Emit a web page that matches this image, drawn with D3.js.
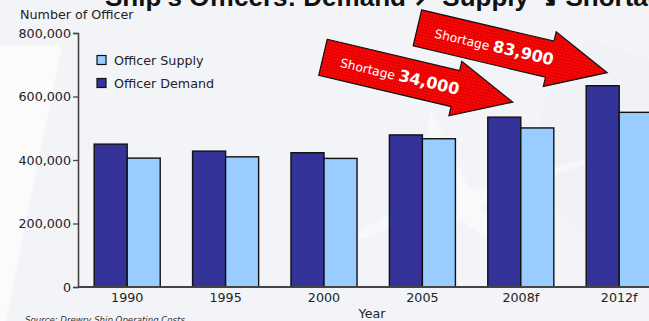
<!DOCTYPE html>
<html>
<head>
<meta charset="utf-8">
<script src="https://cdn.jsdelivr.net/npm/d3@7/dist/d3.min.js"></script>
<style>
  html, body { margin: 0; padding: 0; background: #f4f5f7; }
  svg { display: block; }
</style>
</head>
<body>
<svg id="chart" width="649" height="321"></svg>
<script>
// ---- data ----
const years = ["1990", "1995", "2000", "2005", "2008f", "2012f"];
const officerDemand = [450000, 428000, 423000, 479000, 535000, 634000];
const officerSupply = [406000, 410000, 405000, 467000, 501000, 550100];
const yTicks = [0, 200000, 400000, 600000, 800000];
const shortageYears = ["2008f", "2012f"];
const shortageValues = [34000, 83900];
const seriesNames = ["Officer Demand", "Officer Supply"];

const W = 649, H = 321;
const svg = d3.select("#chart");
const FONT = "'DejaVu Sans', Verdana, sans-serif";

// background
svg.append("rect").attr("width", W).attr("height", H).attr("fill", "#f3f4f7");
svg.append("path").attr("d", "M0,45 L62,45 L6,321 L0,321 Z").attr("fill", "#fbfbfc");
svg.append("path").attr("d", "M590,40 C520,90 520,200 600,250 L649,250 L649,60 Z").attr("fill", "#eef0f3").attr("opacity", 0.6);
svg.append("path").attr("d", "M430,110 L470,190 L620,150 L480,205 L560,290 L460,220 L420,300 L430,215 L330,250 L420,195 Z")
  .attr("fill", "#ffffff").attr("opacity", 0.45);

// title (partly cut off at the top, as in the reference)
svg.append("text")
  .attr("x", 105).attr("y", 5.5)
  .attr("font-family", "'Liberation Sans', Arial, sans-serif")
  .attr("font-weight", "bold").attr("font-size", 26).attr("fill", "#111")
  .text("Ship's Officers: Demand \u2197 Supply \u2198 Shortage");

// scales
const y = d3.scaleLinear().domain([0, 800000]).range([287, 33]);
const x0 = d3.scaleBand().domain(years).range([78, 668.4]).paddingInner(0).paddingOuter(0);
const x1 = d3.scaleBand().domain(seriesNames).range([0, x0.bandwidth()]).paddingInner(0).paddingOuter(0.49);
const color = d3.scaleOrdinal().domain(seriesNames).range(["#333399", "#99ccff"]);

// bars
const rows = years.map((yr, i) => ({ year: yr, values: [
  { key: "Officer Demand", v: officerDemand[i] },
  { key: "Officer Supply", v: officerSupply[i] }
]}));
const g = svg.append("g");
g.selectAll("g.grp").data(rows).join("g")
  .attr("transform", d => `translate(${x0(d.year)},0)`)
  .selectAll("rect").data(d => d.values).join("rect")
  .attr("x", d => x1(d.key))
  .attr("y", d => y(d.v))
  .attr("width", x1.bandwidth())
  .attr("height", d => y(0) - y(d.v))
  .attr("fill", d => color(d.key))
  .attr("stroke", "#111").attr("stroke-width", 1.4);

// x axis line
svg.append("line").attr("x1", 78).attr("x2", W).attr("y1", 287).attr("y2", 287)
  .attr("stroke", "#444").attr("stroke-width", 2);

// x labels
const xAxis = svg.append("g").attr("transform", "translate(0,287)")
  .call(d3.axisBottom(x0).tickSize(0).tickPadding(6));
xAxis.select(".domain").remove();
xAxis.selectAll("text").attr("font-family", FONT).attr("font-size", 12.7).attr("fill", "#222");

// y axis
const yAxis = svg.append("g").attr("transform", "translate(78,0)")
  .call(d3.axisLeft(y).tickValues(yTicks).tickSize(5).tickPadding(2)
    .tickFormat(d => d === 0 ? "0" : d3.format(",")(d)));
yAxis.select(".domain").attr("stroke", "#444").attr("stroke-width", 1.6);
yAxis.selectAll(".tick line").attr("stroke", "#444").attr("stroke-width", 1.3);
yAxis.selectAll("text").attr("font-family", FONT).attr("font-size", 12.7).attr("fill", "#222");

// axis titles
svg.append("text").attr("x", 20).attr("y", 18.5).attr("font-family", FONT).attr("font-size", 12.7)
  .attr("fill", "#222").text("Number of Officer");
svg.append("text").attr("x", 372).attr("y", 318).attr("text-anchor", "middle").attr("font-family", FONT)
  .attr("font-size", 12.7).attr("fill", "#222").text("Year");
svg.append("text").attr("x", 25).attr("y", 323).attr("font-family", FONT).attr("font-style", "italic")
  .attr("font-size", 8.6).attr("fill", "#333").text("Source: Drewry Ship Operating Costs");

// legend
const legend = [["Officer Supply", 60], ["Officer Demand", 83]];
legend.forEach(([name, cy]) => {
  svg.append("rect").attr("x", 97).attr("y", cy - 4.5).attr("width", 9).attr("height", 9)
    .attr("fill", color(name)).attr("stroke", "#111").attr("stroke-width", 1.2);
  svg.append("text").attr("x", 114).attr("y", cy + 4.5).attr("font-family", FONT).attr("font-size", 12.7)
    .attr("fill", "#222").text(name);
});

// red hatched pattern
const defs = svg.append("defs");
const pat = defs.append("pattern").attr("id", "redgrid").attr("patternUnits", "userSpaceOnUse")
  .attr("width", 3).attr("height", 3);
pat.append("rect").attr("width", 3).attr("height", 3).attr("fill", "#ff0a0a");
pat.append("rect").attr("width", 3).attr("height", 1).attr("fill", "#e00000");
pat.append("rect").attr("width", 1).attr("height", 3).attr("fill", "#e00000");

// shortage arrows
const tipOffsets = [[25, -15], [21, -13]];
const L = 195, sw = 18.5, hw = 28, hl = 59;
const arrowPath = `M0,${-sw} L${L - hl},${-sw} L${L - hl},${-hw} L${L},0 L${L - hl},${hw} L${L - hl},${sw} L0,${sw} Z`;
const angle = 13.3;
shortageYears.forEach((yr, i) => {
  const idx = years.indexOf(yr);
  const tipX = x0(yr) + x1("Officer Demand") + tipOffsets[i][0];
  const tipY = y(officerDemand[idx]) + tipOffsets[i][1];
  const rad = angle * Math.PI / 180;
  const tx = tipX - L * Math.cos(rad), ty = tipY - L * Math.sin(rad);
  const a = svg.append("g").attr("transform", `translate(${tx},${ty}) rotate(${angle})`);
  a.append("path").attr("d", arrowPath).attr("fill", "url(#redgrid)")
    .attr("stroke", "#111").attr("stroke-width", 1.2).attr("stroke-linejoin", "miter");
  const t = a.append("text").attr("x", 79).attr("y", 5.5).attr("text-anchor", "middle")
    .attr("font-family", FONT).attr("fill", "#fff");
  t.append("tspan").attr("font-size", 12.3).text("Shortage ");
  t.append("tspan").attr("font-size", 16).attr("font-weight", "bold").text(d3.format(",")(shortageValues[i]));
});
</script>
</body>
</html>
